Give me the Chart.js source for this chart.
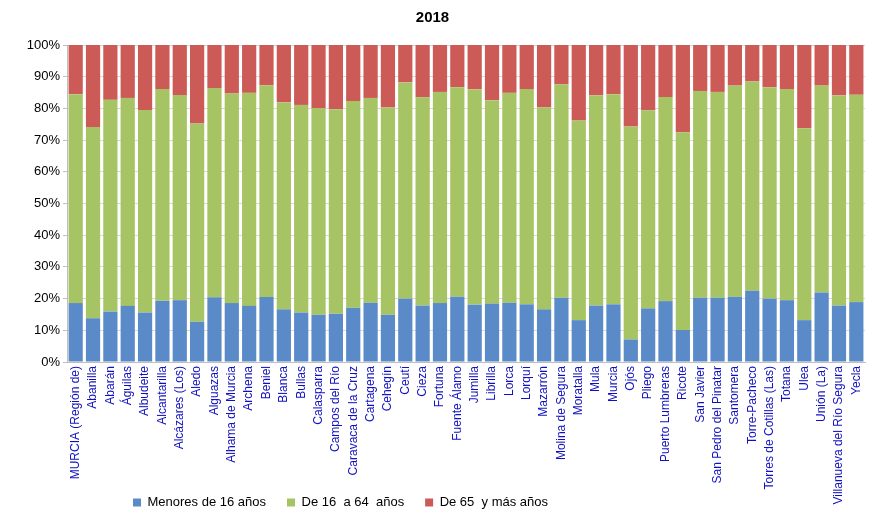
<!DOCTYPE html>
<html>
<head>
<meta charset="utf-8">
<script src="https://cdn.jsdelivr.net/npm/chart.js@4"></script>
<style>
  body { margin: 0; background: #fff; }
  #wrap { width: 889px; height: 525px; position: relative; }
</style>
</head>
<body>
<div id="wrap"><canvas id="myChart"></canvas></div>
<script>
// Municipios (eje X)
const municipios = [
  "MURCIA (Región de)", "Abanilla", "Abarán", "Águilas", "Albudeite", "Alcantarilla",
  "Alcázares (Los)", "Aledo", "Alguazas", "Alhama de Murcia", "Archena", "Beniel",
  "Blanca", "Bullas", "Calasparra", "Campos del Río", "Caravaca de la Cruz", "Cartagena",
  "Cehegín", "Ceutí", "Cieza", "Fortuna", "Fuente Álamo", "Jumilla", "Librilla", "Lorca",
  "Lorquí", "Mazarrón", "Molina de Segura", "Moratalla", "Mula", "Murcia", "Ojós", "Pliego",
  "Puerto Lumbreras", "Ricote", "San Javier", "San Pedro del Pinatar", "Santomera",
  "Torre-Pacheco", "Torres de Cotillas (Las)", "Totana", "Ulea", "Unión (La)",
  "Villanueva del Río Segura", "Yecla"
];

// % de población por grupo de edad
const menores16 = [
  18.6, 13.8, 15.9, 17.7, 15.6, 19.3, 19.5, 12.7, 20.4, 18.6, 17.7, 20.5,
  16.6, 15.6, 14.9, 15.2, 17.1, 18.7, 14.9, 20.0, 17.8, 18.6, 20.6, 18.1, 18.4, 18.7,
  18.2, 16.6, 20.3, 13.2, 17.8, 18.2, 7.1, 16.9, 19.2, 10.1, 20.3, 20.3, 20.6,
  22.5, 20.0, 19.5, 13.2, 21.9, 17.8, 18.9
];
const de16a64 = [
  65.9, 60.3, 66.8, 65.6, 63.9, 66.8, 64.7, 62.5, 66.0, 66.1, 67.2, 66.8,
  65.3, 65.5, 65.2, 64.5, 65.2, 64.6, 65.4, 68.2, 65.7, 66.6, 66.1, 67.9, 64.2, 66.2,
  67.9, 63.7, 67.3, 63.0, 66.3, 66.3, 67.2, 62.5, 64.4, 62.4, 65.2, 64.9, 66.6,
  66.0, 66.7, 66.6, 60.5, 65.3, 66.3, 65.4
];
const de65 = [
  15.5, 25.9, 17.3, 16.7, 20.5, 13.9, 15.8, 24.8, 13.6, 15.3, 15.1, 12.7,
  18.1, 18.9, 19.9, 20.3, 17.7, 16.7, 19.7, 11.8, 16.5, 14.8, 13.3, 14.0, 17.4, 15.1,
  13.9, 19.7, 12.4, 23.8, 15.9, 15.5, 25.7, 20.6, 16.4, 27.5, 14.5, 14.8, 12.8,
  11.5, 13.3, 13.9, 26.3, 12.8, 15.9, 15.7
];

const yTicks = [0, 10, 20, 30, 40, 50, 60, 70, 80, 90, 100];

// move the legend a bit left, and let long x labels run past the axis box
const layoutFix = {
  id: "layoutFix",
  afterLayout(chart) {
    chart.legend.left -= 92;
    chart.legend.right -= 92;
    chart.scales.x.bottom = chart.height;
  },
};

const ctx = document.getElementById("myChart").getContext("2d");
new Chart(ctx, {
  type: "bar",
  data: {
    labels: municipios,
    datasets: [
      { label: "Menores de 16 años", data: menores16, backgroundColor: "#5a8bc8" },
      { label: "De 16  a 64  años", data: de16a64, backgroundColor: "#a6c463" },
      { label: "De 65  y más años", data: de65, backgroundColor: "#cc5b57" },
    ],
  },
  plugins: [layoutFix],
  options: {
    responsive: true,
    maintainAspectRatio: false,
    animation: false,
    layout: { padding: { left: 0, right: 24, top: 0, bottom: 6 } },
    datasets: {
      bar: { categoryPercentage: 0.82, barPercentage: 1 },
    },
    plugins: {
      title: {
        display: true,
        text: "2018",
        color: "#000",
        font: { family: "Liberation Sans", size: 15, weight: "bold" },
        padding: { top: 9, bottom: 18 },
      },
      legend: {
        position: "bottom",
        labels: {
          color: "#000",
          font: { family: "Liberation Sans", size: 13 },
          boxWidth: 8,
          boxHeight: 8,
          padding: 21,
        },
      },
      tooltip: { enabled: false },
    },
    scales: {
      x: {
        stacked: true,
        grid: { display: false, drawTicks: false },
        border: { color: "#bfbfbf" },
        ticks: {
          color: "#1010c0",
          font: { family: "Liberation Sans", size: 12 },
          minRotation: 90,
          maxRotation: 90,
          autoSkip: false,
          padding: 4,
        },
        afterFit: (scale) => { scale.height = 113; },
      },
      y: {
        stacked: true,
        min: 0,
        max: 100,
        afterBuildTicks: (scale) => { scale.ticks = yTicks.map((v) => ({ value: v })); },
        grid: { color: "#d9d9d9", tickColor: "#bfbfbf", tickLength: 4 },
        border: { color: "#bfbfbf" },
        ticks: {
          color: "#000",
          font: { family: "Liberation Sans", size: 13 },
          padding: 3,
          callback: (v) => v + "%",
        },
        afterFit: (scale) => { scale.width = 67; },
      },
    },
  },
});
</script>
</body>
</html>
